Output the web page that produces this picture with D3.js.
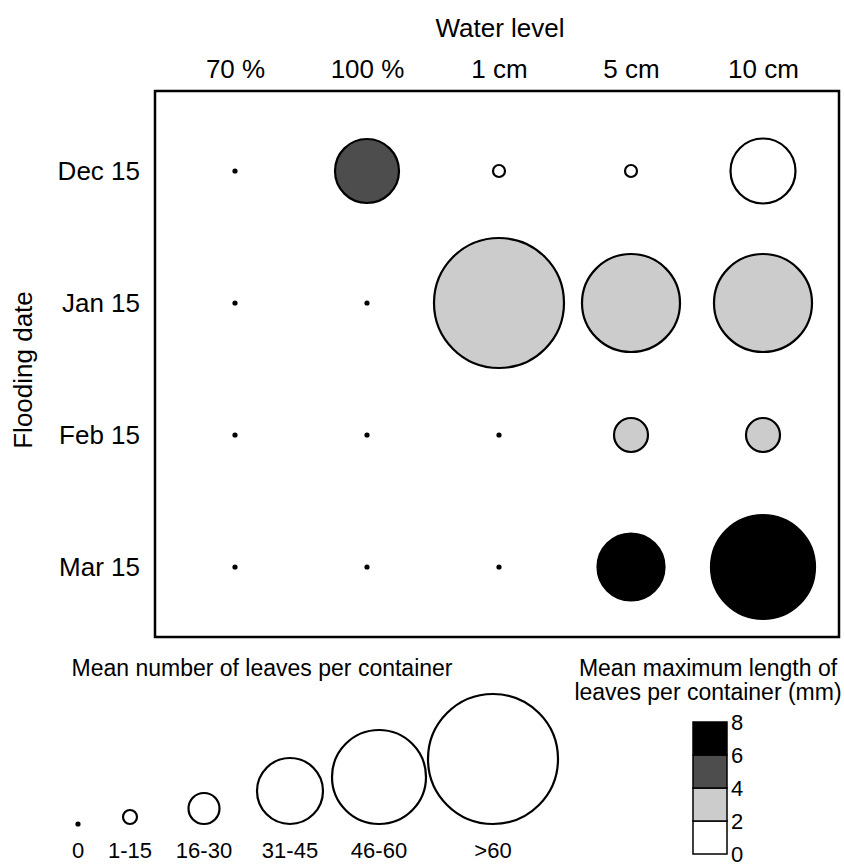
<!DOCTYPE html>
<html>
<head>
<meta charset="utf-8">
<script src="https://cdn.jsdelivr.net/npm/d3@7"></script>
<style>
  body { margin: 0; background: #fff; }
  text { font-family: "Liberation Sans", Arial, sans-serif; fill: #000; }
</style>
</head>
<body>
<div id="chart"></div>
<script>
// categories
var waterLevels = ["70 %", "100 %", "1 cm", "5 cm", "10 cm"];
var floodDates  = ["Dec 15", "Jan 15", "Feb 15", "Mar 15"];

// mean number of leaves (size value), one row per flooding date
var leavesDec = [0, 32, 6, 6, 32.5];
var leavesJan = [0, 0, 65, 49, 49];
var leavesFeb = [0, 0, 0, 17, 17];
var leavesMar = [0, 0, 0, 33.5, 52];

// mean maximum leaf length (mm), null where there are no leaves
var lengthDec = [null, 5, 1, 1, 1];
var lengthJan = [null, null, 3, 3, 3];
var lengthFeb = [null, null, null, 3, 3];
var lengthMar = [null, null, null, 7, 7];

// legends
var sizeClasses = ["0", "1-15", "16-30", "31-45", "46-60", ">60"];
var sizeClassValues = [0, 7, 15.5, 33, 47, 65];
var lengthBreaks = [0, 2, 4, 6, 8];
var lengthColors = ["#ffffff", "#cccccc", "#4d4d4d", "#000000"];

var leaves = [leavesDec, leavesJan, leavesFeb, leavesMar];
var lengths = [lengthDec, lengthJan, lengthFeb, lengthMar];

var width = 844, height = 866;
var box = { left: 155, top: 91, right: 839, bottom: 637 };

var svg = d3.select("#chart").append("svg")
  .attr("width", width)
  .attr("height", height);

// scales
var x = d3.scalePoint().domain(waterLevels).range([235, 763]);
var y = d3.scalePoint().domain(floodDates).range([171, 567]);
var r = d3.scaleLinear().domain([0, 65]).range([0, 65]);
var fill = d3.scaleThreshold().domain([2, 4, 6]).range(lengthColors);

// frame
svg.append("rect")
  .attr("x", box.left).attr("y", box.top)
  .attr("width", box.right - box.left).attr("height", box.bottom - box.top)
  .attr("fill", "none").attr("stroke", "#000").attr("stroke-width", 2.5);

// axes as text (top and left)
var xAxis = d3.axisTop(x).tickSize(0).tickPadding(0);
var gx = svg.append("g").attr("transform", "translate(0,78)").call(xAxis);
gx.select(".domain").remove();
gx.selectAll("text").style("font-size", "26px").attr("font-family", null);

var yAxis = d3.axisLeft(y).tickSize(0).tickPadding(0);
var gy = svg.append("g").attr("transform", "translate(140,0)").call(yAxis);
gy.select(".domain").remove();
gy.selectAll("text").style("font-size", "26px").attr("font-family", null);

svg.append("text")
  .attr("x", 500).attr("y", 37)
  .attr("text-anchor", "middle")
  .style("font-size", "26px")
  .text("Water level");

svg.append("text")
  .attr("transform", "translate(32,370) rotate(-90)")
  .attr("text-anchor", "middle")
  .style("font-size", "26px")
  .text("Flooding date");

// cells
var cells = [];
floodDates.forEach(function(d, i) {
  waterLevels.forEach(function(w, j) {
    cells.push({ date: d, level: w, leaves: leaves[i][j], length: lengths[i][j] });
  });
});

svg.append("g").selectAll("circle")
  .data(cells)
  .enter().append("circle")
  .attr("cx", function(d) { return x(d.level); })
  .attr("cy", function(d) { return y(d.date); })
  .attr("r", function(d) { return d.leaves > 0 ? r(d.leaves) : 2.6; })
  .attr("fill", function(d) { return d.leaves > 0 ? fill(d.length) : "#000"; })
  .attr("stroke", function(d) { return d.leaves > 0 ? "#000" : "none"; })
  .attr("stroke-width", 2.2);

// size legend
svg.append("text")
  .attr("x", 262).attr("y", 676)
  .attr("text-anchor", "middle")
  .style("font-size", "23px")
  .text("Mean number of leaves per container");

var legendX = d3.scaleLinear()
  .domain([0, 1, 2, 3, 4, 5])
  .range([78, 130, 204, 290, 379, 493]);
var legendBase = 824;

var sl = svg.append("g").selectAll("g")
  .data(sizeClasses)
  .enter().append("g");

sl.append("circle")
  .attr("cx", function(d, i) { return legendX(i); })
  .attr("cy", function(d, i) { return sizeClassValues[i] > 0 ? legendBase - r(sizeClassValues[i]) : legendBase; })
  .attr("r", function(d, i) { return sizeClassValues[i] > 0 ? r(sizeClassValues[i]) : 2.6; })
  .attr("fill", function(d, i) { return sizeClassValues[i] > 0 ? "#fff" : "#000"; })
  .attr("stroke", function(d, i) { return sizeClassValues[i] > 0 ? "#000" : "none"; })
  .attr("stroke-width", 2.2);

sl.append("text")
  .attr("x", function(d, i) { return legendX(i); })
  .attr("y", 858)
  .attr("text-anchor", "middle")
  .style("font-size", "22px")
  .text(function(d) { return d; });

// colour legend
svg.append("text")
  .attr("x", 708).attr("y", 676)
  .attr("text-anchor", "middle")
  .style("font-size", "23px")
  .text("Mean maximum length of");
svg.append("text")
  .attr("x", 708).attr("y", 700)
  .attr("text-anchor", "middle")
  .style("font-size", "23px")
  .text("leaves per container (mm)");

var cy = d3.scaleLinear().domain([0, 8]).range([854, 722]);
var cg = svg.append("g");

cg.selectAll("rect")
  .data(d3.range(lengthColors.length))
  .enter().append("rect")
  .attr("x", 693).attr("width", 34)
  .attr("y", function(i) { return cy(lengthBreaks[i + 1]); })
  .attr("height", function(i) { return cy(lengthBreaks[i]) - cy(lengthBreaks[i + 1]); })
  .attr("fill", function(i) { return lengthColors[i]; })
  .attr("stroke", "#000").attr("stroke-width", 1.5);

var cAxis = d3.axisRight(cy).tickValues(lengthBreaks).tickSize(0).tickPadding(0);
var gc = svg.append("g").attr("transform", "translate(731,0)").call(cAxis);
gc.select(".domain").remove();
gc.selectAll("text").style("font-size", "22px").attr("font-family", null);
</script>
</body>
</html>
